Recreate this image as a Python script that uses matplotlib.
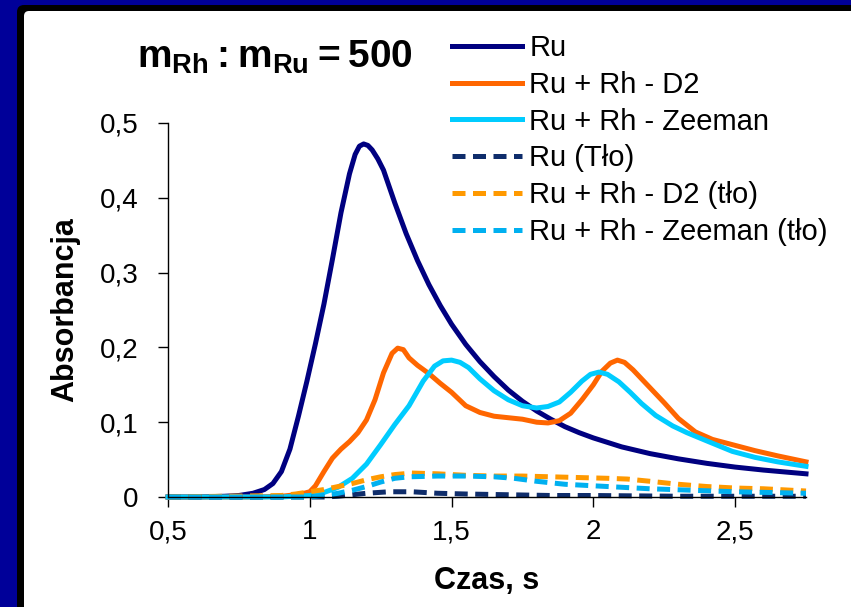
import matplotlib
matplotlib.use("Agg")
import matplotlib.pyplot as plt
from matplotlib.patches import FancyBboxPatch
from matplotlib.ticker import FuncFormatter

# ---- data -------------------------------------------------------------
ru_x = [0.50, 0.60, 0.70, 0.75, 0.80, 0.84, 0.87, 0.90, 0.93, 0.96, 0.99, 1.02,
        1.05, 1.08, 1.11, 1.14, 1.16, 1.175, 1.19, 1.205, 1.22, 1.24, 1.26, 1.30,
        1.34, 1.38, 1.42, 1.46, 1.50, 1.55, 1.60, 1.65, 1.70, 1.75, 1.80, 1.85,
        1.90, 1.95, 2.00, 2.10, 2.20, 2.30, 2.40, 2.50, 2.60, 2.75]
ru_y = [0.000, 0.000, 0.001, 0.002, 0.005, 0.010, 0.018, 0.034, 0.064, 0.108, 0.155, 0.205,
        0.258, 0.318, 0.380, 0.432, 0.458, 0.469, 0.472, 0.470, 0.464, 0.452, 0.437, 0.393,
        0.352, 0.316, 0.284, 0.256, 0.231, 0.204, 0.181, 0.161, 0.143, 0.128, 0.115, 0.104,
        0.094, 0.086, 0.079, 0.067, 0.058, 0.051, 0.045, 0.040, 0.036, 0.031]

d2_x = [0.50, 0.80, 0.90, 0.95, 0.98, 1.00, 1.02, 1.05, 1.08, 1.11, 1.14, 1.17,
        1.20, 1.23, 1.26, 1.29, 1.31, 1.33, 1.35, 1.38, 1.42, 1.46, 1.50, 1.55,
        1.60, 1.65, 1.70, 1.75, 1.80, 1.84, 1.88, 1.92, 1.96, 2.00, 2.03, 2.06,
        2.085, 2.11, 2.14, 2.17, 2.21, 2.25, 2.30, 2.36, 2.42, 2.49, 2.57, 2.65,
        2.70, 2.75]
d2_y = [0.000, 0.000, 0.001, 0.003, 0.005, 0.007, 0.015, 0.034, 0.052, 0.064, 0.074, 0.086,
        0.103, 0.130, 0.166, 0.192, 0.199, 0.197, 0.186, 0.176, 0.165, 0.152, 0.140, 0.122,
        0.113, 0.108, 0.106, 0.104, 0.100, 0.099, 0.102, 0.112, 0.130, 0.150, 0.168, 0.179,
        0.183, 0.180, 0.170, 0.158, 0.142, 0.126, 0.105, 0.087, 0.077, 0.070, 0.062, 0.055,
        0.051, 0.047]

zee_x = [0.50, 0.90, 1.00, 1.05, 1.10, 1.15, 1.20, 1.25, 1.30, 1.35, 1.40, 1.44,
         1.47, 1.50, 1.53, 1.56, 1.60, 1.65, 1.70, 1.75, 1.80, 1.84, 1.88, 1.92,
         1.96, 1.99, 2.02, 2.05, 2.09, 2.13, 2.17, 2.22, 2.28, 2.33, 2.40, 2.49,
         2.57, 2.65, 2.75]
zee_y = [0.000, 0.000, 0.002, 0.006, 0.013, 0.025, 0.044, 0.070, 0.097, 0.122, 0.155, 0.175,
         0.182, 0.183, 0.180, 0.173, 0.158, 0.142, 0.130, 0.122, 0.119, 0.121, 0.127, 0.140,
         0.155, 0.164, 0.167, 0.164, 0.154, 0.140, 0.125, 0.109, 0.095, 0.086, 0.075, 0.061,
         0.053, 0.047, 0.041]

ru_bg_x = [0.50, 1.05, 1.10, 1.15, 1.20, 1.28, 1.36, 1.45, 1.55, 1.70, 1.85, 2.00, 2.30, 2.75]
ru_bg_y = [0.000, 0.000, 0.001, 0.003, 0.005, 0.007, 0.007, 0.005, 0.004, 0.003, 0.002, 0.002, 0.001, 0.001]

d2_bg_x = [0.50, 0.90, 0.95, 1.00, 1.05, 1.10, 1.15, 1.20, 1.25, 1.30, 1.36, 1.45,
           1.55, 1.65, 1.75, 1.85, 1.95, 2.05, 2.12, 2.20, 2.30, 2.40, 2.50, 2.60, 2.75]
d2_bg_y = [0.000, 0.002, 0.004, 0.007, 0.010, 0.014, 0.018, 0.023, 0.027, 0.030, 0.032, 0.031,
           0.029, 0.028, 0.028, 0.027, 0.026, 0.025, 0.024, 0.021, 0.017, 0.014, 0.012, 0.011, 0.008]

zee_bg_x = [0.50, 1.00, 1.05, 1.10, 1.15, 1.20, 1.25, 1.30, 1.35, 1.45, 1.55, 1.65,
            1.72, 1.80, 1.90, 2.00, 2.10, 2.20, 2.35, 2.50, 2.75]
zee_bg_y = [0.000, 0.000, 0.002, 0.005, 0.009, 0.014, 0.020, 0.025, 0.027, 0.028, 0.028, 0.027,
            0.025, 0.021, 0.017, 0.015, 0.013, 0.011, 0.009, 0.007, 0.005]

labels = ["Ru", "Ru + Rh - D2", "Ru + Rh - Zeeman",
          "Ru (Tło)", "Ru + Rh - D2 (tło)", "Ru + Rh - Zeeman (tło)"]
x_ticks = [0.5, 1.0, 1.5, 2.0, 2.5]
y_ticks = [0.0, 0.1, 0.2, 0.3, 0.4, 0.5]

# ---- styling ----------------------------------------------------------
plt.rcParams["font.family"] = ["Liberation Sans", "DejaVu Sans"]
plt.rcParams["mathtext.fontset"] = "custom"
plt.rcParams["mathtext.rm"] = "Liberation Sans"
plt.rcParams["mathtext.bf"] = "Liberation Sans:bold"

W, H, DPI = 851, 607, 100
fig = plt.figure(figsize=(W / DPI, H / DPI), dpi=DPI)
fig.patch.set_facecolor("#000099")

# slide frame: black inner border and white panel
fig.patches.append(FancyBboxPatch((17, -50), W + 100, H - 5 + 50,
                                  boxstyle="round,pad=0,rounding_size=7",
                                  facecolor="black", edgecolor="none",
                                  transform=None, figure=fig, zorder=-10))
fig.patches.append(FancyBboxPatch((24, -50), W + 100, H - 11 + 50,
                                  boxstyle="round,pad=0,rounding_size=5",
                                  facecolor="white", edgecolor="none",
                                  transform=None, figure=fig, zorder=-9))

ax = fig.add_axes([168 / W, 110 / H, 638 / W, 374 / H])
ax.set_facecolor("none")

lw = 3.6
dash = (2.6, 1.5)
series = [
    (ru_x, ru_y, "#000080", "-"),
    (d2_x, d2_y, "#FF6600", "-"),
    (zee_x, zee_y, "#00CCFF", "-"),
    (ru_bg_x, ru_bg_y, "#0F2D6B", "--"),
    (d2_bg_x, d2_bg_y, "#FF9900", "--"),
    (zee_bg_x, zee_bg_y, "#00B0F0", "--"),
]
handles = []
for (xs, ys, col, ls), lab in zip(series, labels):
    if ls == "--":
        (h,) = ax.plot(xs, ys, color=col, lw=lw, dashes=dash, label=lab,
                       clip_on=False)
    else:
        (h,) = ax.plot(xs, ys, color=col, lw=lw, label=lab, clip_on=False,
                       solid_joinstyle="round")
    handles.append(h)

ax.set_xlim(0.5, 2.75)
ax.set_ylim(0, 0.5)
ax.set_xticks(x_ticks)
ax.set_yticks(y_ticks)
comma = FuncFormatter(lambda v, p: ("%g" % v).replace(".", ","))
ax.xaxis.set_major_formatter(comma)
ax.yaxis.set_major_formatter(comma)

for s in ("top", "right"):
    ax.spines[s].set_visible(False)
for s in ("left", "bottom"):
    ax.spines[s].set_linewidth(1.0)
    ax.spines[s].set_color("black")
ax.tick_params(axis="both", direction="out", length=7, width=1.0, colors="black",
               labelsize=20)
ax.tick_params(axis="y", pad=14)
ax.tick_params(axis="x", pad=9)

ax.set_xlabel("Czas, s", fontsize=22, fontweight="bold", labelpad=15)
ax.set_ylabel("Absorbancja", fontsize=22, fontweight="bold", labelpad=14)

fig.text(137 / W, (H - 68) / H,
         r"$\mathbf{m_{Rh}:m_{Ru}=500}$",
         fontsize=28, ha="left", va="baseline")

leg = fig.legend(handles=handles, labels=labels, loc="upper left",
                 bbox_to_anchor=(452 / W, (H - 34) / H), frameon=False,
                 fontsize=21, handlelength=2.4, handletextpad=0.25,
                 labelspacing=0.3, borderpad=0, borderaxespad=0)

fig.savefig("out.png", dpi=DPI, facecolor=fig.get_facecolor())
